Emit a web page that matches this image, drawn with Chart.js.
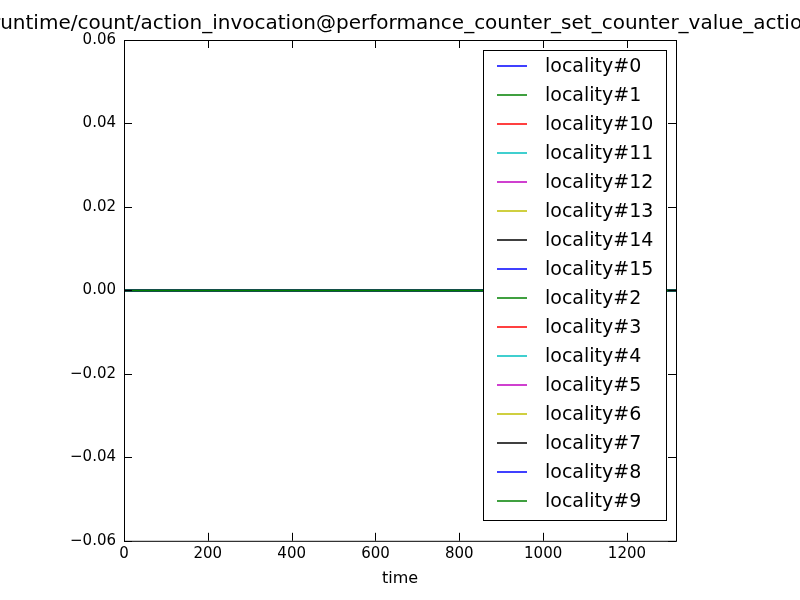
<!DOCTYPE html>
<html><head><meta charset="utf-8">
<script src="https://cdn.jsdelivr.net/npm/chart.js@4"></script>
<style>html,body{margin:0;padding:0;background:#fff}#w{width:800px;height:600px}</style>
</head><body><div id="w"><canvas id="c" width="800" height="600"></canvas></div>
<script>
const titleText = "/runtime/count/action_invocation@performance_counter_set_counter_value_action";
const seriesNames = ["locality#0","locality#1","locality#10","locality#11","locality#12","locality#13","locality#14","locality#15","locality#2","locality#3","locality#4","locality#5","locality#6","locality#7","locality#8","locality#9"];
const times = [0,100,200,300,400,500,600,700,800,900,1000,1100,1200,1317];
const values = [0,0,0,0,0,0,0,0,0,0,0,0,0,0];
const xTicks = [0,200,400,600,800,1000,1200];
const yTicks = [-0.06,-0.04,-0.02,0,0.02,0.04,0.06];
const palette = ["#0000ff","#008000","#ff0000","#00bfbf","#bf00bf","#bfbf00","#000000"];
const FONT = "'DejaVu Sans', sans-serif";

const datasets = seriesNames.map((n,i)=>({
  label:n, data:times.map((t,j)=>({x:t,y:values[j]})),
  borderColor:palette[i%7], borderWidth:2, pointRadius:0, fill:false,
  order:seriesNames.length-i
}));

const frame = {
  id:'frame',
  afterDraw(ch){
    const c=ch.ctx, a=ch.chartArea, xs=ch.scales.x, ys=ch.scales.y;
    c.save();
    c.strokeStyle='#000'; c.lineWidth=1;
    c.strokeRect(a.left+0.5,a.top+0.5,a.right-a.left,a.bottom-a.top);
    c.beginPath();
    xTicks.forEach(v=>{const p=Math.round(xs.getPixelForValue(v))+0.5;
      c.moveTo(p,a.bottom);c.lineTo(p,a.bottom-8);c.moveTo(p,a.top);c.lineTo(p,a.top+8);});
    yTicks.forEach(v=>{const p=Math.round(ys.getPixelForValue(v))+0.5;
      c.moveTo(a.left,p);c.lineTo(a.left+8,p);c.moveTo(a.right,p);c.lineTo(a.right-8,p);});
    c.stroke();
    c.fillStyle='#000'; c.font="20px "+FONT; c.textAlign='center'; c.textBaseline='bottom';
    c.fillText(titleText,400,a.top-6);
    const lx=483, ly=50, lw=183, lh=470;
    c.fillStyle='#fff'; c.fillRect(lx,ly,lw,lh);
    c.strokeStyle='#000'; c.strokeRect(lx+0.5,ly+0.5,lw,lh);
    c.font="19px "+FONT; c.textAlign='left'; c.textBaseline='middle';
    ch.data.datasets.forEach((d,i)=>{
      const y=66+i*29;
      c.strokeStyle=d.borderColor; c.lineWidth=1.5;
      c.beginPath(); c.moveTo(497,y); c.lineTo(527,y); c.stroke();
      c.fillStyle='#000'; c.fillText(d.label,545,y+1);
    });
    c.restore();
  }
};

new Chart(document.getElementById('c'),{
  type:'line',
  data:{datasets},
  options:{
    responsive:false, animation:false,
    layout:{padding:{top:40,right:124,left:0,bottom:12}},
    plugins:{legend:{display:false},title:{display:false},tooltip:{enabled:false}},
    scales:{
      x:{type:'linear',min:0,max:1317,
        afterBuildTicks(s){s.ticks=xTicks.map(v=>({value:v}));},
        grid:{display:false,drawTicks:false},border:{display:false},
        ticks:{color:'#000',font:{family:FONT,size:15},padding:4,maxRotation:0,callback:v=>String(v)},
        title:{display:true,text:'time',color:'#000',font:{family:FONT,size:16},padding:{top:2,bottom:0}}},
      y:{type:'linear',min:-0.06,max:0.06,
        afterBuildTicks(s){s.ticks=yTicks.map(v=>({value:v}));},
        afterFit(s){s.width=124;},
        grid:{display:false,drawTicks:false},border:{display:false},
        ticks:{color:'#000',font:{family:FONT,size:15},padding:8,
          callback:v=>(v<-1e-9?'\u2212':'')+Math.abs(v).toFixed(2)}}
    }
  },
  plugins:[frame]
});
</script></body></html>
